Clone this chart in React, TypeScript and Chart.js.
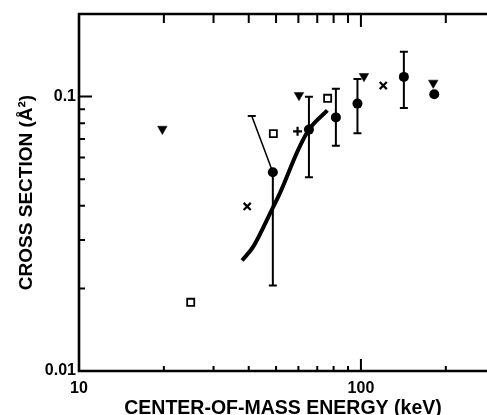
import React, { useEffect, useRef } from "react";
import { Chart, registerables } from "chart.js";
Chart.register(...registerables);

// Filled circles with error bars
const circleX = [48.7, 65.4, 81.5, 97.2, 142, 182];
const circleY = [0.053, 0.0758, 0.084, 0.0943, 0.118, 0.102];
const circleErrLow: (number | null)[] = [0.0205, 0.0508, 0.0662, 0.0735, 0.0909, null];
const circleErrHigh: (number | null)[] = [null, 0.0998, 0.1067, 0.116, 0.1456, null];

// Inverted triangles
const triX = [19.75, 60.3, 102.5, 180.5];
const triY = [0.0762, 0.1011, 0.1186, 0.1122];

// Open squares
const sqX = [24.9, 48.9, 76.2];
const sqY = [0.0178, 0.0733, 0.0986];

// X markers
const xMarkX = [39.5, 120];
const xMarkY = [0.0398, 0.1097];

// Plus marker
const plusX = [59.6];
const plusY = [0.0747];

// Thick theory curve
const curveX = [37.9, 41.5, 48.0, 51.6, 59.9, 65.4, 76.0];
const curveY = [0.0253, 0.0284, 0.0382, 0.0445, 0.064, 0.0758, 0.0891];

// Thin slanted upper bar
const slantX = [41, 48.7];
const slantY = [0.085, 0.053];

const xTickLabels = [10, 100];
const yTickLabels = [0.01, 0.1];

const FONT = "'Liberation Sans', Arial, sans-serif";

const pts = (xs: number[], ys: number[]) => xs.map((x, i) => ({ x, y: ys[i] }));
const near = (a: number, b: number) => Math.abs(Math.log10(a) - Math.log10(b)) < 1e-6;
const isPow10 = (v: number) => Math.abs(Math.log10(v) - Math.round(Math.log10(v))) < 1e-6;
const isLogTick = (v: number) => {
  const m = v / Math.pow(10, Math.floor(Math.log10(v) + 1e-9));
  return Math.abs(m - Math.round(m)) < 1e-6;
};

export default function App() {
  const ref = useRef<HTMLCanvasElement>(null);
  useEffect(() => {
    const canvas = ref.current!;
    const decor = {
      id: "decor",
      afterDatasetsDraw(chart: any) {
        const { ctx, chartArea: a, scales } = chart;
        const xs = scales.x, ys = scales.y;
        ctx.save();
        ctx.strokeStyle = "#000";
        ctx.lineCap = "butt";
        // error bars
        ctx.lineWidth = 2;
        circleX.forEach((xv, i) => {
          const lo = circleErrLow[i], hi = circleErrHigh[i];
          if (lo == null && hi == null) return;
          const px = xs.getPixelForValue(xv);
          const pc = ys.getPixelForValue(circleY[i]);
          const pl = lo == null ? pc : ys.getPixelForValue(lo);
          const ph = hi == null ? pc : ys.getPixelForValue(hi);
          ctx.beginPath();
          ctx.moveTo(px, pl);
          ctx.lineTo(px, ph);
          if (lo != null) { ctx.moveTo(px - 4, pl); ctx.lineTo(px + 4, pl); }
          if (hi != null) { ctx.moveTo(px - 4, ph); ctx.lineTo(px + 4, ph); }
          ctx.stroke();
        });
        // frame
        ctx.lineWidth = 2.6;
        ctx.beginPath();
        ctx.moveTo(a.right + 3, a.top);
        ctx.lineTo(a.left, a.top);
        ctx.lineTo(a.left, a.bottom);
        ctx.lineTo(a.right + 3, a.bottom);
        ctx.stroke();
        // ticks
        ctx.lineWidth = 2;
        ctx.beginPath();
        xs.ticks.forEach((t: any) => {
          const v = t.value;
          if (!isLogTick(v) || v <= xs.min * 1.0001 || v >= xs.max * 0.9999) return;
          const px = xs.getPixelForValue(v);
          const major = isPow10(v);
          ctx.moveTo(px, a.bottom);
          ctx.lineTo(px, a.bottom - (major ? 12 : 5));
          ctx.moveTo(px, a.top);
          ctx.lineTo(px, a.top + (major ? 13 : 9));
        });
        ys.ticks.forEach((t: any) => {
          const v = t.value;
          if (!isLogTick(v) || v <= ys.min * 1.0001 || v >= ys.max * 0.9999) return;
          const py = ys.getPixelForValue(v);
          const major = isPow10(v);
          ctx.moveTo(a.left, py);
          ctx.lineTo(a.left + (major ? 13 : 6), py);
        });
        ctx.stroke();
        ctx.restore();
      },
    };

    const chart = new Chart(canvas, {
      type: "scatter",
      data: {
        datasets: [
          {
            data: pts(curveX, curveY),
            showLine: true,
            borderColor: "#000",
            borderWidth: 4,
            pointRadius: 0,
            tension: 0.4,
            cubicInterpolationMode: "monotone",
          } as any,
          {
            data: pts(slantX, slantY),
            showLine: true,
            borderColor: "#000",
            borderWidth: 1.5,
            pointStyle: "line",
            pointRadius: [4, 0],
            pointBorderWidth: 2,
            pointBorderColor: "#000",
          } as any,
          {
            data: pts(circleX, circleY),
            pointStyle: "circle",
            pointRadius: 5,
            backgroundColor: "#000",
            borderColor: "#000",
            pointBorderWidth: 0,
          },
          {
            data: pts(triX, triY),
            pointStyle: "triangle",
            pointRotation: 180,
            pointRadius: 5.5,
            backgroundColor: "#000",
            borderColor: "#000",
            pointBorderWidth: 0.5,
          },
          {
            data: pts(sqX, sqY),
            pointStyle: "rect",
            pointRadius: 5,
            backgroundColor: "#fff",
            borderColor: "#000",
            pointBorderWidth: 1.8,
          },
          {
            data: pts(xMarkX, xMarkY),
            pointStyle: "crossRot",
            pointRadius: 5,
            borderColor: "#000",
            pointBorderWidth: 2.2,
          },
          {
            data: pts(plusX, plusY),
            pointStyle: "cross",
            pointRadius: 4.5,
            borderColor: "#000",
            pointBorderWidth: 2.2,
          },
        ],
      },
      options: {
        animation: false,
        responsive: false,
        layout: { autoPadding: false, padding: { top: 14, left: 0, right: 0, bottom: 0 } },
        plugins: { legend: { display: false }, tooltip: { enabled: false } },
        scales: {
          x: {
            type: "logarithmic",
            position: "bottom",
            min: 10,
            max: 280,
            grid: { display: false, drawTicks: false },
            border: { display: false },
            afterFit: (s: any) => { s.height = 44; s.paddingLeft = 0; s.paddingRight = 0; },
            ticks: {
              autoSkip: false,
              maxRotation: 0,
              padding: 8,
              color: "#000",
              font: { family: FONT, size: 16, weight: "bold" },
              callback: (v: any) => {
                const f = xTickLabels.find((l) => near(Number(v), l));
                return f !== undefined ? String(f) : "";
              },
            },
            title: {
              display: true,
              text: "CENTER-OF-MASS ENERGY (keV)",
              color: "#000",
              font: { family: FONT, size: 19.5, weight: "bold", lineHeight: 0.7 },
              padding: { top: 0, bottom: 0 },
            },
          },
          y: {
            type: "logarithmic",
            position: "left",
            min: 0.01,
            max: 0.2,
            grid: { display: false, drawTicks: false },
            border: { display: false },
            afterFit: (s: any) => { s.width = 79; s.paddingTop = 0; s.paddingBottom = 0; },
            ticks: {
              autoSkip: false,
              padding: 3,
              color: "#000",
              font: { family: FONT, size: 16, weight: "bold" },
              callback: (v: any) => {
                const f = yTickLabels.find((l) => near(Number(v), l));
                return f !== undefined ? String(f) : "";
              },
            },
            title: {
              display: true,
              text: "CROSS SECTION (Å²)",
              color: "#000",
              font: { family: FONT, size: 19, weight: "bold", lineHeight: 1 },
              padding: { top: 17, bottom: 0 },
            },
          },
        },
      } as any,
      plugins: [decor],
    });
    return () => chart.destroy();
  }, []);

  return (
    <div style={{ position: "fixed", left: 0, top: 0, width: 487, height: 415, background: "#fff" }}>
      <canvas ref={ref} width={487} height={415} style={{ display: "block" }} />
    </div>
  );
}
